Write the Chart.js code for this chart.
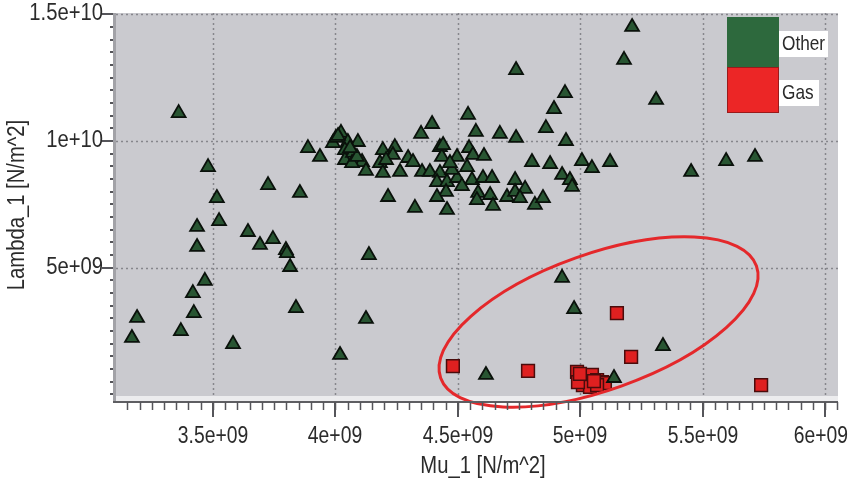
<!DOCTYPE html>
<html><head><meta charset="utf-8">
<script src="https://cdn.jsdelivr.net/npm/chart.js@4.4.1/dist/chart.umd.min.js"></script>
<style>html,body{margin:0;padding:0;background:#fff;overflow:hidden}canvas{display:block}</style>
</head><body>
<canvas id="c" width="850" height="484"></canvas>
<script>
// ---- data ----
const seriesNames = ['Other', 'Gas'];
const otherX = [
  3.36e9, 3.48e9, 3.725e9, 3.855e9, 3.516e9, 3.525e9, 3.435e9, 3.643e9, 3.692e9, 3.745e9, 3.435e9, 3.798e9, 3.802e9, 4.137e9, 3.815e9, 3.467e9, 3.418e9, 3.422e9, 3.839e9, 3.19e9, 4.125e9, 3.369e9, 3.169e9, 3.582e9, 4.019e9, 3.888e9, 3.937e9,
  4.023e9, 3.99e9, 4.002e9, 4.051e9, 4.092e9, 4.039e9, 4.039e9, 4.072e9, 4.109e9, 4.125e9, 4.068e9, 4.194e9, 4.243e9, 4.235e9, 4.182e9, 4.194e9, 4.264e9, 4.297e9, 4.317e9, 4.35e9, 4.395e9, 4.354e9, 4.386e9, 4.427e9, 4.435e9, 4.427e9, 4.415e9, 4.456e9, 4.452e9, 4.415e9, 4.215e9, 4.325e9, 4.456e9, 4.207e9, 4.088e9,
  4.542e9, 4.893e9, 4.574e9, 4.672e9, 4.738e9, 4.86e9, 4.942e9, 4.44e9, 4.546e9, 4.562e9, 4.607e9, 4.497e9, 4.803e9, 4.877e9, 5.007e9, 5.048e9, 4.538e9, 4.926e9, 4.958e9, 4.967e9, 4.497e9, 4.558e9, 4.603e9, 4.64e9, 4.734e9, 4.583e9, 4.632e9, 4.701e9, 4.734e9, 4.775e9, 4.754e9, 4.578e9, 4.644e9, 4.815e9, 4.848e9, 4.476e9, 4.517e9, 4.468e9,
  4.938e9, 4.738e9, 5.179e9, 5.212e9, 5.31e9, 5.122e9, 5.453e9, 5.596e9, 5.714e9, 4.011e9, 4.06e9,
  4.926e9, 4.975e9, 4.615e9, 5.138e9, 5.338e9
];
const otherY = [
  11.10e9, 8.97e9, 8.26e9, 7.95e9, 7.75e9, 6.84e9, 6.61e9, 6.41e9, 5.90e9, 6.13e9, 5.82e9, 5.70e9, 5.58e9, 5.50e9, 5.03e9, 4.48e9, 4.00e9, 3.21e9, 3.41e9, 3.02e9, 2.98e9, 2.50e9, 2.23e9, 1.99e9, 1.56e9, 9.72e9, 9.37e9,
  10.32e9, 9.92e9, 10.12e9, 9.96e9, 9.96e9, 9.64e9, 9.25e9, 9.53e9, 9.17e9, 8.82e9, 9.13e9, 9.64e9, 9.76e9, 9.45e9, 9.13e9, 8.74e9, 8.78e9, 9.33e9, 9.17e9, 10.28e9, 10.67e9, 8.78e9, 8.78e9, 9.76e9, 9.37e9, 8.74e9, 8.38e9, 8.38e9, 7.99e9, 7.79e9, 7.79e9, 7.36e9, 7.28e9, 9.25e9, 9.37e9,
  11.03e9, 11.26e9, 10.36e9, 10.28e9, 10.12e9, 10.51e9, 10.00e9, 9.84e9, 9.72e9, 9.45e9, 9.41e9, 9.37e9, 9.17e9, 9.09e9, 9.21e9, 8.93e9, 8.97e9, 8.66e9, 8.46e9, 8.19e9, 8.54e9, 8.46e9, 8.54e9, 8.54e9, 8.46e9, 7.95e9, 7.87e9, 7.79e9, 7.99e9, 8.11e9, 7.75e9, 7.67e9, 7.44e9, 7.48e9, 7.75e9, 8.86e9, 8.22e9, 9.13e9,
  11.89e9, 12.80e9, 13.20e9, 14.50e9, 11.62e9, 9.17e9, 8.78e9, 9.21e9, 9.37e9, 10.20e9, 9.72e9,
  4.60e9, 3.37e9, 0.77e9, 0.65e9, 1.91e9
];
const gasX = [4.48e9, 4.787e9, 5.15e9, 5.208e9, 5.739e9, 4.987e9, 5.007e9, 5.028e9, 5.048e9, 5.069e9, 5.089e9, 5.011e9, 5.04e9, 4.991e9, 5.101e9, 5.069e9, 4.999e9, 5.056e9];
const gasY = [1.12e9, 0.93e9, 3.21e9, 1.48e9, 0.37e9, 0.89e9, 0.69e9, 0.57e9, 0.77e9, 0.57e9, 0.49e9, 0.37e9, 0.30e9, 0.49e9, 0.45e9, 0.37e9, 0.81e9, 0.53e9];

const xTickValues = [3.5e9, 4e9, 4.5e9, 5e9, 5.5e9, 6e9];
const xTickLabels = ['3.5e+09', '4e+09', '4.5e+09', '5e+09', '5.5e+09', '6e+09'];
const yTickValues = [5e9, 1e10, 1.5e10];
const yTickLabels = ['5e+09', '1e+10', '1.5e+10'];
const xMinorStep = 0.05e9;
const yMinorStep = 0.5e9;
const xTitle = 'Mu_1 [N/m^2]';
const yTitle = 'Lambda_1 [N/m^2]';
// highlight ellipse: ends of its long axis, in data units
const ellipseAxisStart = [4.43e9, 0.65e9];
const ellipseAxisEnd = [5.72e9, 5.07e9];

// ---- styling ----
const FONT_FAMILY = '"Liberation Sans", Arial, sans-serif';
const TEXT_COLOR = '#2b2b2b';

function txt(ctx, s, x, y, align, size, sx, rot) {
  ctx.save();
  ctx.font = size + 'px ' + FONT_FAMILY;
  if (!rot && align === 'center') {
    const half = ctx.measureText(s).width * sx / 2;
    x = Math.min(x, ctx.canvas.width - half - 2);
  }
  ctx.translate(x, y);
  if (rot) ctx.rotate(rot);
  ctx.scale(sx, 1);
  ctx.textAlign = align;
  ctx.textBaseline = 'middle';
  ctx.fillStyle = TEXT_COLOR;
  ctx.fillText(s, 0, 0);
  ctx.restore();
}

const deco = {
  id: 'deco',
  beforeDraw(chart) {
    const {ctx, chartArea: a, scales: {x, y}} = chart;
    ctx.save();
    ctx.fillStyle = '#fff';
    ctx.fillRect(0, 0, chart.width, chart.height);
    ctx.fillStyle = '#cacacf';
    ctx.fillRect(a.left, a.top, a.right - a.left, a.bottom - a.top);
    ctx.fillStyle = '#ececee';
    ctx.fillRect(a.left, a.bottom, a.right - a.left, 5);
    ctx.fillStyle = '#a2a2a7';
    ctx.fillRect(a.left - 3, a.top, 3, a.bottom - a.top + 6);
    ctx.strokeStyle = '#86868c';
    ctx.lineWidth = 1.5;
    ctx.setLineDash([2, 3]);
    xTickValues.forEach(v => {
      const p = Math.round(x.getPixelForValue(v)) + 0.5;
      ctx.beginPath(); ctx.moveTo(p, a.top); ctx.lineTo(p, a.bottom); ctx.stroke();
    });
    yTickValues.forEach(v => {
      const p = Math.round(y.getPixelForValue(v)) + 0.5;
      ctx.beginPath(); ctx.moveTo(a.left, p); ctx.lineTo(a.right, p); ctx.stroke();
    });
    ctx.restore();
  },
  afterDatasetsDraw(chart) {
    const {ctx, chartArea: a, scales: {x, y}} = chart;
    ctx.save();
    const x1 = x.getPixelForValue(ellipseAxisStart[0]), y1 = y.getPixelForValue(ellipseAxisStart[1]);
    const x2 = x.getPixelForValue(ellipseAxisEnd[0]), y2 = y.getPixelForValue(ellipseAxisEnd[1]);
    const cx = (x1 + x2) / 2, cy = (y1 + y2) / 2;
    const ra = Math.hypot(x2 - x1, y2 - y1) / 2;
    const ang = Math.atan2(y2 - y1, x2 - x1);
    ctx.beginPath();
    ctx.ellipse(cx, cy, ra, 68, ang, 0, Math.PI * 2);
    ctx.strokeStyle = '#e4282b';
    ctx.lineWidth = 3;
    ctx.stroke();
    const lx = a.right - 111;
    ctx.fillStyle = '#2d693d';
    ctx.fillRect(lx, 17, 52, 50);
    ctx.fillStyle = '#ec2626';
    ctx.fillRect(lx, 67, 52, 46);
    ctx.strokeStyle = '#9a1a1a';
    ctx.lineWidth = 1;
    ctx.strokeRect(lx + 0.5, 67.5, 51, 45);
    ctx.fillStyle = '#fff';
    ctx.fillRect(lx + 52, 31, 49, 26);
    ctx.fillRect(lx + 52, 80, 40, 26);
    txt(ctx, seriesNames[0], lx + 55, 44, 'left', 21, 0.82);
    txt(ctx, seriesNames[1], lx + 55, 93, 'left', 21, 0.82);
    ctx.restore();
  },
  afterDraw(chart) {
    const {ctx, chartArea: a, scales: {x, y}} = chart;
    ctx.save();
    const axY = a.bottom + 6;
    ctx.strokeStyle = '#5e5e62';
    ctx.lineWidth = 2;
    ctx.beginPath(); ctx.moveTo(a.left - 3, axY); ctx.lineTo(a.right, axY); ctx.stroke();
    ctx.lineWidth = 1.5;
    ctx.strokeStyle = '#55555a';
    for (let v = Math.ceil(x.min / xMinorStep) * xMinorStep; v <= x.max; v += xMinorStep) {
      const p = Math.round(x.getPixelForValue(v)) + 0.5;
      ctx.beginPath(); ctx.moveTo(p, axY); ctx.lineTo(p, axY + 8); ctx.stroke();
    }
    ctx.lineWidth = 2;
    xTickValues.forEach((v, i) => {
      const p = Math.round(x.getPixelForValue(v));
      ctx.beginPath(); ctx.moveTo(p, axY); ctx.lineTo(p, axY + 15); ctx.stroke();
      txt(ctx, xTickLabels[i], p, 437, 'center', 23, 0.84);
    });
    ctx.lineWidth = 2;
    for (let v = Math.ceil(y.min / yMinorStep) * yMinorStep; v <= y.max; v += yMinorStep) {
      const p = Math.round(y.getPixelForValue(v));
      ctx.beginPath(); ctx.moveTo(a.left - 6, p); ctx.lineTo(a.left - 3, p); ctx.stroke();
    }
    yTickValues.forEach((v, i) => {
      const p = Math.round(y.getPixelForValue(v));
      ctx.beginPath(); ctx.moveTo(a.left - 14, p); ctx.lineTo(a.left - 3, p); ctx.stroke();
      txt(ctx, yTickLabels[i], a.left - 13, p, 'right', 23, 0.88);
    });
    txt(ctx, xTitle, (a.left + a.right) / 2 + 6, 467, 'center', 23, 0.88);
    txt(ctx, yTitle, 18, 205, 'center', 23, 0.88, -Math.PI / 2);
    ctx.restore();
  }
};

new Chart(document.getElementById('c'), {
  type: 'scatter',
  data: {
    datasets: [
      {
        label: seriesNames[0],
        data: otherX.map((v, i) => ({x: v, y: otherY[i]})),
        pointStyle: 'triangle',
        radius: 8,
        backgroundColor: '#285532',
        borderColor: '#0a110b',
        borderWidth: 1.8
      },
      {
        label: seriesNames[1],
        data: gasX.map((v, i) => ({x: v, y: gasY[i]})),
        pointStyle: 'rect',
        radius: 9,
        backgroundColor: '#df2020',
        borderColor: '#4a0c0c',
        borderWidth: 1.5
      }
    ]
  },
  options: {
    responsive: false,
    animation: false,
    devicePixelRatio: 1,
    layout: {padding: {top: 13, right: 12, left: 0, bottom: 0}, autoPadding: false},
    plugins: {legend: {display: false}, tooltip: {enabled: false}},
    events: [],
    scales: {
      x: {
        type: 'linear', min: 3.104e9, max: 6.053e9,
        ticks: {display: false}, grid: {display: false}, border: {display: false},
        afterBuildTicks(s) { s.ticks = xTickValues.map(v => ({value: v})); },
        afterFit(s) { s.height = 88; }
      },
      y: {
        type: 'linear', min: -0.06e9, max: 1.505e10,
        ticks: {display: false}, grid: {display: false}, border: {display: false},
        afterBuildTicks(s) { s.ticks = yTickValues.map(v => ({value: v})); },
        afterFit(s) { s.width = 116; }
      }
    }
  },
  plugins: [deco]
});
</script>
</body></html>
